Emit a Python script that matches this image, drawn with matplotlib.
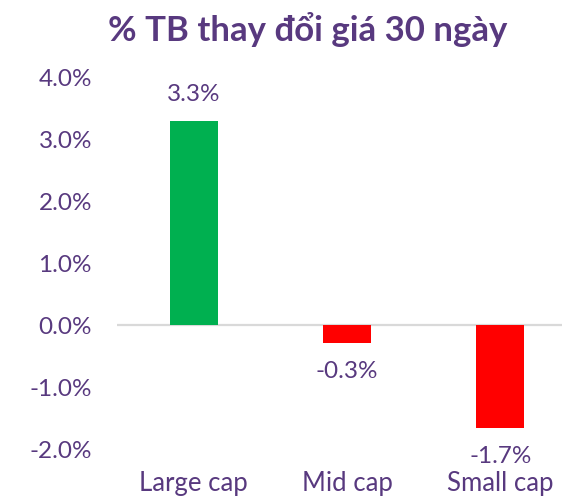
import matplotlib.pyplot as plt
from matplotlib.ticker import FuncFormatter

# data
categories = ["Large cap", "Mid cap", "Small cap"]
changes = [3.3, -0.29, -1.66]   # % average 30-day price change
y_ticks = [-2, -1, 0, 1, 2, 3, 4]

purple = "#58397F"
green = "#00B050"
red = "#FF0000"

plt.rcParams["font.family"] = ["Lato", "DejaVu Sans"]

fig = plt.figure(figsize=(5.62, 5.01), dpi=100)
ax = fig.add_axes([117 / 562, 52 / 501, 460 / 562, 371 / 501])

colors = [green if v >= 0 else red for v in changes]
x = list(range(len(categories)))
ax.bar(x, changes, width=0.313, color=colors, zorder=2)

# zero line
ax.axhline(0, color="#D9D9D9", linewidth=1.6, zorder=1)

# data labels
for xi, v in zip(x, changes):
    txt = f"{v:.1f}%"
    if v >= 0:
        ax.annotate(txt, (xi, v), xytext=(0, 12), textcoords="offset points",
                    ha="center", va="bottom", fontsize=17.5, color=purple)
    else:
        ax.annotate(txt, (xi, v), xytext=(0, -13), textcoords="offset points",
                    ha="center", va="top", fontsize=17.5, color=purple)

ax.set_xlim(-0.5, 2.5)
ax.set_ylim(-2, 4)
ax.set_yticks(y_ticks)
ax.yaxis.set_major_formatter(FuncFormatter(lambda v, _: f"{v:.1f}%"))
ax.set_xticks(x)
ax.set_xticklabels(categories)

for s in ax.spines.values():
    s.set_visible(False)
ax.tick_params(axis="y", length=0, pad=18, labelsize=17.5, labelcolor=purple)
ax.tick_params(axis="x", length=0, pad=16, labelsize=18.5, labelcolor=purple)

fig.text(0.547, 0.942, "% TB thay đổi giá 30 ngày", ha="center", va="center",
         fontsize=25, fontweight="bold", color=purple)

fig.savefig("out.png", dpi=100)
